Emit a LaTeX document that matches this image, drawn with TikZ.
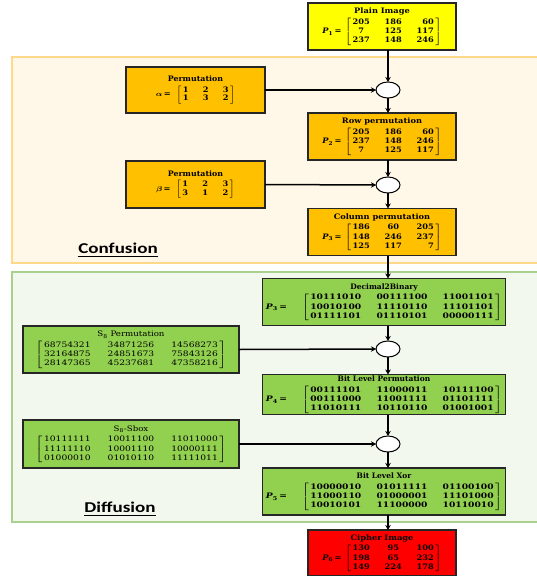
\documentclass[tikz,border=0pt]{standalone}
\usepackage{amsmath}
\usepackage{fontspec}
\setmainfont{DejaVu Serif}
\newfontfamily\labelfont{Carlito}
\usetikzlibrary{arrows.meta,shapes.geometric}

\definecolor{plainyellow}{HTML}{FFFF00}
\definecolor{confOrange}{HTML}{FFC000}
\definecolor{diffGreen}{HTML}{92D050}
\definecolor{cipherRed}{HTML}{FF0000}
\definecolor{confBack}{HTML}{FFF7E8}
\definecolor{confEdge}{HTML}{FFD98A}
\definecolor{diffBack}{HTML}{F3F8EE}
\definecolor{diffEdge}{HTML}{A9D18E}

% horizontally widened text block
\newcommand\widen[2]{\scalebox{#1}[1]{#2}}
% bracketed matrix built from a tabular
\newcommand\mtx[2]{$\left[\begin{tabular}{@{\,}#1@{\,}}#2\end{tabular}\right]$}
% box content: widened title over widened body
\newcommand\boxtext[4]{\begin{tabular}{@{}c@{}}\widen{#1}{#2}\\[1.5pt]\widen{#3}{#4}\end{tabular}}
% matrix name with its equals sign; #2 is the gap before the bracket
\newcommand\plab[2]{\textit{P}\textsubscript{#1}\,=\hspace{#2}}
% column layouts
\newcommand\deccols{c@{\hspace{13.5pt}}c@{\hspace{13.5pt}}r}
\newcommand\bincols{c@{\hspace{12.5pt}}c@{\hspace{12.5pt}}c}
\newcommand\keycols{c@{\hspace{13pt}}c@{\hspace{13pt}}c}

\tikzset{
  every node/.style={inner sep=0pt, outer sep=0pt},
  box/.style={draw=black!85, line width=1.3pt, align=center,
              font=\fontsize{7.5}{9.2}\selectfont\bfseries},
  narrowbox/.style={box, minimum width=148pt, minimum height=47pt},
  sidebox/.style={box, minimum width=139pt, minimum height=46pt,
              font=\fontsize{7.5}{8.4}\selectfont\bfseries},
  widebox/.style={box, minimum width=243pt, minimum height=47pt},
  sboxbox/.style={box, minimum width=216pt, minimum height=47pt,
              font=\fontsize{7.5}{9.2}\selectfont},
  junction/.style={draw=black, line width=1pt, fill=white, ellipse,
              minimum width=24pt, minimum height=16pt},
  region/.style={line width=1.5pt},
  flow/.style={draw=black, line width=1.5pt, -{Stealth[length=5pt,width=5.5pt]}},
  regionlabel/.style={font=\labelfont\bfseries\fontsize{15}{17}\selectfont},
}

\begin{document}
\begin{tikzpicture}[x=1pt, y=-1pt]
  \useasboundingbox (0,0) rectangle (537,576);

  % stage backgrounds
  \draw[region, draw=confEdge, fill=confBack] (12,57) rectangle (545,263);
  \draw[region, draw=diffEdge, fill=diffBack] (12,272) rectangle (545,522);
  \node[regionlabel] (conflabel) at (118,250) {\widen{1.27}{\underline{Confusion}}};
  \node[regionlabel] (difflabel) at (120,509) {\widen{1.27}{\underline{Diffusion}}};

  % main chain
  \node[narrowbox, fill=plainyellow] (plain) at (382,26.5)
    {\boxtext{1.1}{Plain Image}{1.1}{\plab{1}{3pt}\mtx{\deccols}{205&186&60\\7&125&117\\237&148&246}}};
  \node[junction] (j1) at (388,90) {};
  \node[narrowbox, fill=confOrange] (rowp) at (382,136.5)
    {\boxtext{1.1}{Row permutation}{1.1}{\plab{2}{3pt}\mtx{\deccols}{205&186&60\\237&148&246\\7&125&117}}};
  \node[junction] (j2) at (388,185) {};
  \node[narrowbox, fill=confOrange] (colp) at (382,232)
    {\boxtext{1.1}{Column permutation}{1.1}{\plab{3}{3pt}\mtx{\deccols}{186&60&205\\148&246&237\\125&117&7}}};
  \node[widebox, fill=diffGreen] (dec) at (384,302)
    {\boxtext{1.0}{Decimal2Binary}{1.22}{\plab{3}{12pt}\mtx{\bincols}{10111010&00111100&11001101\\10010100&11110110&11101101\\01111101&01110101&00000111}}};
  \node[junction] (j3) at (388,349) {};
  \node[widebox, fill=diffGreen, minimum height=40pt] (bitp) at (384,394.5)
    {\boxtext{1.0}{Bit Level Permutation}{1.22}{\plab{4}{12pt}\mtx{\bincols}{00111101&11000011&10111100\\00111000&11001111&01101111\\11010111&10110110&01001001}}};
  \node[junction] (j4) at (388,444) {};
  \node[widebox, fill=diffGreen] (bxor) at (384,491.5)
    {\boxtext{1.0}{Bit Level Xor}{1.22}{\plab{5}{12pt}\mtx{\bincols}{10000010&01011111&01100100\\11000110&01000001&11101000\\10010101&11100000&10110010}}};
  \node[narrowbox, fill=cipherRed, minimum height=46pt] (cipher) at (382,553)
    {\boxtext{1.1}{Cipher Image}{1.1}{\plab{6}{3pt}\mtx{\deccols}{130&95&100\\198&65&232\\149&224&178}}};

  % key inputs
  \node[sidebox, fill=confOrange] (alpha) at (195.5,90)
    {\boxtext{1.05}{Permutation}{1.1}{$\boldsymbol{\alpha}$\,=\hspace{5pt}\mtx{\keycols}{1&2&3\\1&3&2}}};
  \node[sidebox, fill=confOrange, minimum height=47pt] (beta) at (195.5,184.5)
    {\boxtext{1.05}{Permutation}{1.1}{$\boldsymbol{\beta}$\,=\hspace{5pt}\mtx{\keycols}{1&2&3\\3&1&2}}};
  \node[sboxbox, fill=diffGreen] (sperm) at (131,349.5)
    {\boxtext{1.15}{S\textsubscript{8} Permutation}{1.22}{\mtx{c@{\hspace{14pt}}c@{\hspace{14pt}}c}{68754321&34871256&14568273\\32164875&24851673&75843126\\28147365&45237681&47358216}}};
  \node[sboxbox, fill=diffGreen, minimum height=48pt] (sbox) at (131,444)
    {\boxtext{1.15}{S\textsubscript{8}-Sbox}{1.22}{\mtx{c@{\hspace{14pt}}c@{\hspace{14pt}}c}{10111111&10011100&11011000\\11111110&10001110&10000111\\01000010&01010110&11111011}}};

  % connectors
  \draw[flow] (plain.south -| j1) -- (j1);
  \draw[flow] (j1) -- (j1 |- rowp.north);
  \draw[flow] (rowp.south -| j2) -- (j2);
  \draw[flow] (j2) -- (j2 |- colp.north);
  \draw[flow] (colp.south -| j1) -- (dec.north -| j1);
  \draw[flow] (dec.south -| j3) -- (j3);
  \draw[flow] (j3) -- (j3 |- bitp.north);
  \draw[flow] (bitp.south -| j4) -- (j4);
  \draw[flow] (j4) -- (j4 |- bxor.north);
  \draw[flow] (bxor.south -| j4) -- (cipher.north -| j4);
  \draw[flow] (alpha.east) -- (j1.west);
  \draw[flow] (beta.east) -- (j2.west);
  \draw[flow] (sperm.east) -- (j3.west);
  \draw[flow] (sbox.east) -- (j4.west);
\end{tikzpicture}
\end{document}
